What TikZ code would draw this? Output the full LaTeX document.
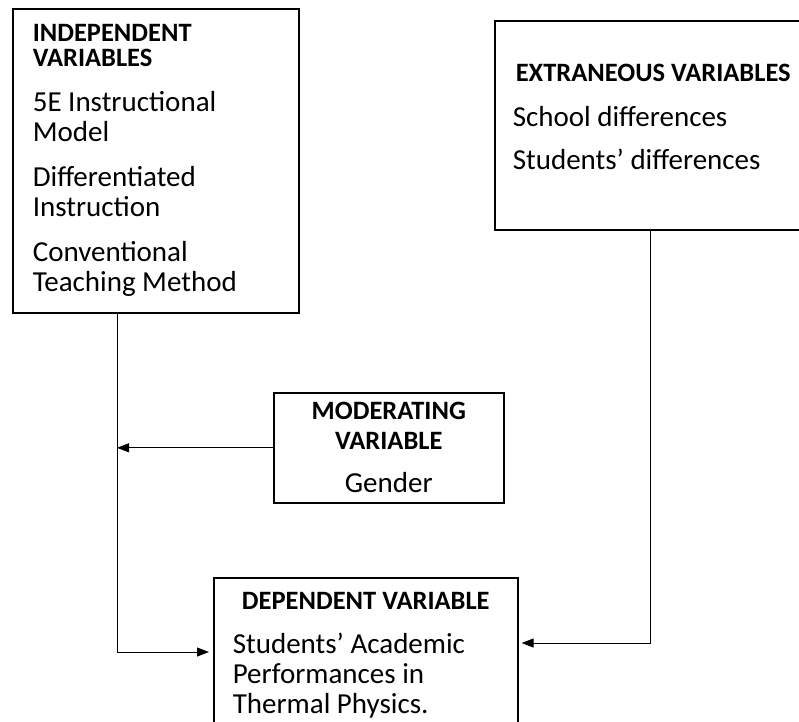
\documentclass[tikz,border=0pt]{standalone}
\usepackage{fontspec}
\setmainfont{Carlito}
\usepackage{tikz}
\usetikzlibrary{arrows.meta}
\usetikzlibrary{positioning}

\newcommand{\hd}[1]{{\bfseries\fontsize{26.5}{30}\selectfont #1}}

\begin{document}
\begin{tikzpicture}[x=1pt, y=-1pt]
        \useasboundingbox (0,0) rectangle (799,721);
        \clip (0,0) rectangle (799,721);

        % variables
        \node (indep) at (12,8) [anchor=north west, draw=black, line width=1.6pt, minimum width=286pt, minimum height=304pt, inner xsep=20pt, text width=246pt, align=flush left, font=\fontsize{29}{30}\selectfont] {\hd{INDEPENDENT}\\[-5pt] \hd{VARIABLES}\\[15pt] 5E Instructional\\ Model\\[15pt] Differentiated\\ Instruction\\[15pt] Conventional\\ Teaching Method};
        \node (extr) at (494,20) [anchor=north west, draw=black, line width=1.6pt, minimum width=340pt, minimum height=209pt, inner xsep=18pt, text width=304pt, text depth=104pt, align=flush left, font=\fontsize{29}{30}\selectfont] {\hspace{3pt}\hd{EXTRANEOUS VARIABLES}\\[15pt] School differences\\[13pt] Students’ differences};
        \node (mod) at (273,392) [anchor=north west, draw=black, line width=1.6pt, minimum width=230pt, minimum height=110pt, text width=210pt, align=flush center, font=\fontsize{29}{30}\selectfont] {\hd{MODERATING}\\ \hd{VARIABLE}\\[13pt] Gender};
        \node (dep) at (213,577) [anchor=north west, draw=black, line width=1.6pt, minimum width=304pt, minimum height=154pt, inner xsep=19pt, text width=266pt, align=flush left, font=\fontsize{29}{30}\selectfont] {\hfill\hd{DEPENDENT VARIABLE}\hfill\null\\[14pt] Students’ Academic\\ Performances in\\ Thermal Physics.};

        % bends
        \coordinate (lc) at (117,652);
        \coordinate (rc) at (650,643);

        % connections
        \draw[line width=1pt, -{Triangle[length=12pt,width=9pt]}, shorten >=4pt] (indep.south -| lc) -- (lc) -- (dep.west |- lc);
        \draw[line width=1pt, -{Triangle[length=12pt,width=9pt]}, shorten >=3pt] (extr.south -| rc) -- (rc) -- (dep.east |- rc);
        \draw[line width=1pt, -{Triangle[length=12pt,width=9pt]}] (mod.west) -- (mod.west -| lc);
    \end{tikzpicture}
\end{document}
